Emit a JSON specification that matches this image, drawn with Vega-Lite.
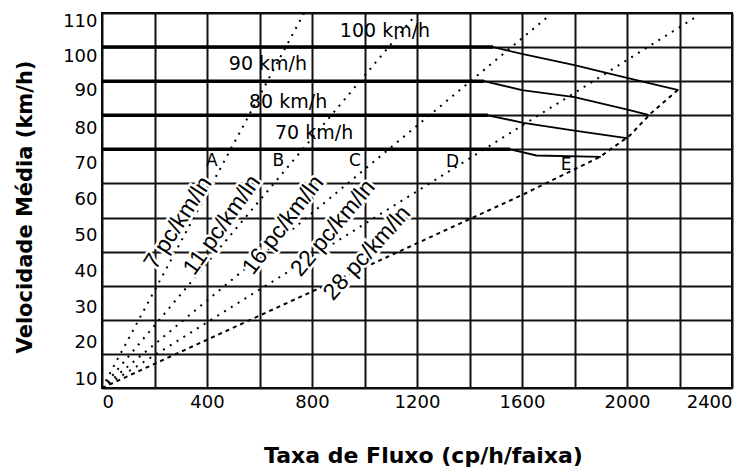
{
  "$schema": "https://vega.github.io/schema/vega-lite/v6.json",
  "width": 630,
  "height": 375,
  "autosize": "none",
  "padding": {"left": 102, "top": 13, "right": 15, "bottom": 84},
  "background": "white",
  "config": {
    "view": {"stroke": "#000", "strokeWidth": 2},
    "axis": {"labelFont": "DejaVu Sans", "labelFontSize": 18, "labelColor": "#000", "titleColor": "#000", "titleFont": "DejaVu Sans", "titleFontWeight": "bold"}
  },
  "datasets": {
    "density": [
      {"density": "7", "flow": 0, "speed": 0},
      {"density": "7", "flow": 770, "speed": 110},
      {"density": "11", "flow": 0, "speed": 0},
      {"density": "11", "flow": 1190, "speed": 109},
      {"density": "16", "flow": 0, "speed": 0},
      {"density": "16", "flow": 1700, "speed": 109},
      {"density": "22", "flow": 0, "speed": 0},
      {"density": "22", "flow": 2260, "speed": 108.7},
      {"density": "28", "flow": 0, "speed": 0},
      {"density": "28", "flow": 1600, "speed": 56.6},
      {"density": "28", "flow": 1897, "speed": 67.8},
      {"density": "28", "flow": 2010, "speed": 74},
      {"density": "28", "flow": 2090, "speed": 80.5},
      {"density": "28", "flow": 2196, "speed": 87.6}
    ],
    "speed": [
      {"ffs": "100", "part": "flat", "flow": 0, "speed": 100},
      {"ffs": "100", "part": "flat", "flow": 1490, "speed": 100},
      {"ffs": "90", "part": "flat", "flow": 0, "speed": 90},
      {"ffs": "90", "part": "flat", "flow": 1455, "speed": 90},
      {"ffs": "80", "part": "flat", "flow": 0, "speed": 80},
      {"ffs": "80", "part": "flat", "flow": 1470, "speed": 80},
      {"ffs": "70", "part": "flat", "flow": 0, "speed": 70},
      {"ffs": "70", "part": "flat", "flow": 1555, "speed": 70},
      {"ffs": "100", "part": "curve", "flow": 1490, "speed": 100},
      {"ffs": "100", "part": "curve", "flow": 1600, "speed": 98},
      {"ffs": "100", "part": "curve", "flow": 1800, "speed": 94.7},
      {"ffs": "100", "part": "curve", "flow": 2000, "speed": 91},
      {"ffs": "100", "part": "curve", "flow": 2196, "speed": 87.4},
      {"ffs": "90", "part": "curve", "flow": 1455, "speed": 90},
      {"ffs": "90", "part": "curve", "flow": 1600, "speed": 87.4},
      {"ffs": "90", "part": "curve", "flow": 1800, "speed": 85.3},
      {"ffs": "90", "part": "curve", "flow": 2010, "speed": 81.5},
      {"ffs": "90", "part": "curve", "flow": 2081, "speed": 80.1},
      {"ffs": "80", "part": "curve", "flow": 1470, "speed": 80},
      {"ffs": "80", "part": "curve", "flow": 1605, "speed": 77.8},
      {"ffs": "80", "part": "curve", "flow": 1800, "speed": 75.5},
      {"ffs": "80", "part": "curve", "flow": 2005, "speed": 73.2},
      {"ffs": "70", "part": "curve", "flow": 1555, "speed": 70},
      {"ffs": "70", "part": "curve", "flow": 1655, "speed": 68.2},
      {"ffs": "70", "part": "curve", "flow": 1900, "speed": 67.8}
    ],
    "speedLabels": [
      {"label": "100 km/h", "flow": 1078, "speed": 104.7},
      {"label": "90 km/h", "flow": 632, "speed": 94.9},
      {"label": "80 km/h", "flow": 709, "speed": 84},
      {"label": "70 km/h", "flow": 808, "speed": 74.7}
    ],
    "densityLabels": [
      {"density": "7", "label": "7 pc/km/ln", "flow": 290, "speed": 48.4},
      {"density": "11", "label": "11 pc/km/ln", "flow": 457, "speed": 47.8},
      {"density": "16", "label": "16 pc/km/ln", "flow": 690, "speed": 47.8},
      {"density": "22", "label": "22 pc/km/ln", "flow": 880, "speed": 46.9},
      {"density": "28", "label": "28 pc/km/ln", "flow": 1010, "speed": 39.6}
    ],
    "los": [
      {"label": "A", "flow": 418, "speed": 66.6},
      {"label": "B", "flow": 672, "speed": 66.6},
      {"label": "C", "flow": 964, "speed": 66.6},
      {"label": "D", "flow": 1335, "speed": 66.4},
      {"label": "E", "flow": 1768, "speed": 65.4}
    ]
  },
  "resolve": {"axis": {"y": "independent"}},
  "layer": [
    {
      "data": {"name": "density"},
      "mark": {"type": "line", "color": "#000", "strokeWidth": 2},
      "encoding": {
        "x": {
          "field": "flow", "type": "quantitative",
          "scale": {"domain": [0, 2400], "nice": false, "zero": false},
          "axis": {
            "values": [0, 200, 400, 600, 800, 1000, 1200, 1400, 1600, 1800, 2000, 2200, 2400],
            "grid": true, "gridColor": "#111", "gridWidth": 2,
            "ticks": false, "tickSize": 0, "domain": false,
            "labelExpr": "datum.value % 400 == 0 ? format(datum.value, 'd') : ''",
            "labelFlush": true, "labelOverlap": false, "labelPadding": 5,
            "title": "Taxa de Fluxo (cp/h/faixa)", "titleFontSize": 22,
            "titleX": 321, "titleY": 74, "titleAlign": "center", "titleBaseline": "alphabetic"
          }
        },
        "y": {
          "field": "speed", "type": "quantitative",
          "scale": {"domain": [0, 110], "nice": false, "zero": false},
          "axis": {
            "orient": "right",
            "values": [0, 10, 20, 30, 40, 50, 60, 70, 80, 90, 100, 110],
            "grid": true, "gridColor": "#111", "gridWidth": 2,
            "labels": false, "ticks": false, "domain": false, "title": null
          }
        },
        "detail": {"field": "density", "type": "nominal"},
        "strokeDash": {
          "field": "density", "type": "nominal",
          "scale": {"domain": ["7", "11", "16", "22", "28"], "range": [[2, 6], [2, 6], [2, 6], [2, 6], [4, 4]]},
          "legend": null
        },
        "order": {"field": "flow", "type": "quantitative"}
      }
    },
    {
      "data": {"name": "speed"},
      "transform": [{"filter": "datum.part == 'flat'"}],
      "mark": {"type": "line", "color": "#000", "strokeWidth": 3.5},
      "encoding": {
        "x": {"field": "flow", "type": "quantitative", "scale": {"domain": [0, 2400], "nice": false, "zero": false}},
        "y": {
          "field": "speed", "type": "quantitative",
          "scale": {"domain": [0, 110], "nice": false, "zero": false},
          "axis": {
            "orient": "left",
            "values": [2.35, 13.35, 23.76, 34.32, 44.88, 55.44, 65.91, 76.18, 87.21, 97.18, 107.45],
            "labelExpr": "'' + (10 + 10 * round((datum.value - 2.35) / 10.51))",
            "grid": false, "ticks": false, "tickSize": 0, "domain": false,
            "labelPadding": 5, "labelBaseline": "middle", "labelOverlap": false,
            "title": "Velocidade Média (km/h)", "titleFontSize": 21, "titleAngle": 270,
            "titleX": -71, "titleY": 193.5, "titleAlign": "center", "titleBaseline": "alphabetic"
          }
        },
        "detail": {"field": "ffs", "type": "nominal"},
        "order": {"field": "flow", "type": "quantitative"}
      }
    },
    {
      "data": {"name": "speed"},
      "transform": [{"filter": "datum.part == 'curve'"}],
      "mark": {"type": "line", "color": "#000", "strokeWidth": 1.8},
      "encoding": {
        "x": {"field": "flow", "type": "quantitative", "scale": {"domain": [0, 2400], "nice": false, "zero": false}},
        "y": {"field": "speed", "type": "quantitative", "scale": {"domain": [0, 110], "nice": false, "zero": false}, "axis": null},
        "detail": {"field": "ffs", "type": "nominal"},
        "order": {"field": "flow", "type": "quantitative"}
      }
    },
    {
      "data": {"name": "speedLabels"},
      "mark": {"type": "text", "font": "DejaVu Sans", "fontSize": 19, "color": "#000", "align": "center", "baseline": "middle"},
      "encoding": {
        "x": {"field": "flow", "type": "quantitative", "scale": {"domain": [0, 2400], "nice": false, "zero": false}},
        "y": {"field": "speed", "type": "quantitative", "scale": {"domain": [0, 110], "nice": false, "zero": false}, "axis": null},
        "text": {"field": "label", "type": "nominal"}
      }
    },
    {
      "data": {"name": "densityLabels"},
      "mark": {"type": "text", "font": "'Liberation Sans Narrow', 'Liberation Sans', sans-serif", "fontSize": 23, "fill": "white", "stroke": "white", "strokeWidth": 5, "align": "center", "baseline": "middle"},
      "encoding": {
        "x": {"field": "flow", "type": "quantitative", "scale": {"domain": [0, 2400], "nice": false, "zero": false}},
        "y": {"field": "speed", "type": "quantitative", "scale": {"domain": [0, 110], "nice": false, "zero": false}, "axis": null},
        "text": {"field": "label", "type": "nominal"},
        "angle": {"field": "density", "type": "nominal", "scale": {"domain": ["7", "11", "16", "22", "28"], "range": [303, 312, 324, 330, 332]}, "legend": null}
      }
    },
    {
      "data": {"name": "densityLabels"},
      "mark": {"type": "text", "font": "'Liberation Sans Narrow', 'Liberation Sans', sans-serif", "fontSize": 23, "color": "#000", "align": "center", "baseline": "middle"},
      "encoding": {
        "x": {"field": "flow", "type": "quantitative", "scale": {"domain": [0, 2400], "nice": false, "zero": false}},
        "y": {"field": "speed", "type": "quantitative", "scale": {"domain": [0, 110], "nice": false, "zero": false}, "axis": null},
        "text": {"field": "label", "type": "nominal"},
        "angle": {"field": "density", "type": "nominal", "scale": {"domain": ["7", "11", "16", "22", "28"], "range": [303, 312, 324, 330, 332]}, "legend": null}
      }
    },
    {
      "data": {"name": "los"},
      "mark": {"type": "text", "font": "DejaVu Sans", "fontSize": 17, "color": "#000", "align": "center", "baseline": "middle"},
      "encoding": {
        "x": {"field": "flow", "type": "quantitative", "scale": {"domain": [0, 2400], "nice": false, "zero": false}},
        "y": {"field": "speed", "type": "quantitative", "scale": {"domain": [0, 110], "nice": false, "zero": false}, "axis": null},
        "text": {"field": "label", "type": "nominal"}
      }
    }
  ]
}
